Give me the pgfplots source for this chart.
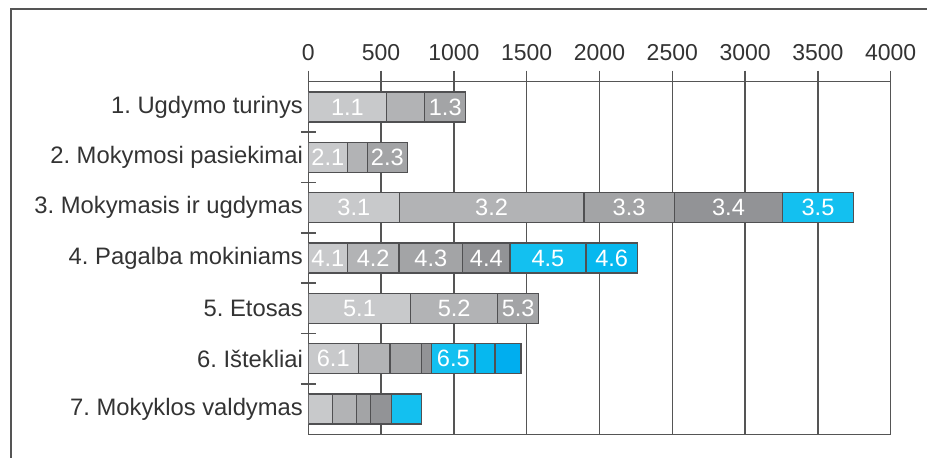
\documentclass[border=0pt]{standalone}
\usepackage{fontspec}
\setmainfont{Liberation Sans}
\usepackage{pgfplots}
\pgfplotsset{compat=1.18}
\definecolor{sa}{HTML}{C8C9CB}
\definecolor{sb}{HTML}{B2B3B5}
\definecolor{sc}{HTML}{A3A4A6}
\definecolor{sd}{HTML}{929396}
\definecolor{ba}{HTML}{13C0F0}
\definecolor{bb}{HTML}{06B8EF}
\definecolor{bc}{HTML}{00AEEF}
\definecolor{edge}{HTML}{505052}
\definecolor{gridc}{HTML}{555555}
\definecolor{txt}{HTML}{333333}
\frenchspacing
\begin{document}
\frenchspacing
\begin{tikzpicture}
\path[use as bounding box] (0,0) rectangle (463.5pt,229pt);
\draw[line width=1pt, color=gridc] (5.5pt,-2pt) -- (5.5pt,224.4pt) -- (466pt,224.4pt);
\begin{axis}[
  at={(154.15pt,11.85pt)}, anchor=south west,
  scale only axis, width=291.2pt, height=176.3pt,
  xbar stacked, bar width=15pt,
  xmin=0, xmax=4000, ymin=0.5, ymax=7.5, y dir=reverse,
  xtick={0,500,...,4000},
  xtick pos=right, xticklabel pos=right, xtick align=outside,
  major tick length=5.5pt,
  xmajorgrids, grid style={gridc, line width=0.7pt},
  axis line style={gridc, line width=0.7pt},
  tick style={gridc, line width=0.7pt},
  /pgf/number format/assume math mode=true,
  /pgf/number format/set thousands separator={},
  xticklabel style={font=\fontsize{11.5}{12}\selectfont, text=txt, inner sep=0pt, anchor=south, yshift=5pt},
  ytick={1,...,7},
  yticklabels={1. Ugdymo turinys, 2. Mokymosi pasiekimai, 3. Mokymasis ir ugdymas, 4. Pagalba mokiniams, 5. Etosas, 6. Ištekliai, 7. Mokyklos valdymas},
  ytick pos=left, ytick align=inside,
  ytick style={draw=none},
  yticklabel style={font=\fontsize{11.9}{12}\selectfont\frenchspacing, text=txt, inner sep=0pt, anchor=east, xshift=-2.5pt},
  extra y ticks={1.5,2.5,...,6.5}, extra y tick labels={},
  extra y tick style={ytick style={draw=gridc, line width=0.7pt}, major tick length=7.5pt, tick align=center},
  point meta=explicit symbolic,
  nodes near coords={\pgfplotspointmeta},
  nodes near coords style={text=white, font=\fontsize{11.8}{12}\selectfont, anchor=center, inner sep=0pt},
  every axis plot/.append style={draw=edge, line width=0.7pt},
]
\addplot[fill=sa] coordinates {(538,1)[1.1] (268,2)[2.1] (625,3)[3.1] (268,4)[4.1] (703,5)[5.1] (343,6)[6.1] (168,7)[{}]};
\addplot[fill=sb] coordinates {(262,1)[{}] (137,2)[{}] (1268,3)[3.2] (355,4)[4.2] (598,5)[5.2] (218,6)[{}] (164,7)[{}]};
\addplot[fill=sc] coordinates {(281,1)[1.3] (275,2)[2.3] (621,3)[3.3] (437,4)[4.3] (281,5)[5.3] (218,6)[{}] (94,7)[{}]};
\addplot[fill=sd] coordinates {(0,1)[{}] (0,2)[{}] (744,3)[3.4] (325,4)[4.4] (0,5)[{}] (68,6)[{}] (144,7)[{}]};
\addplot[fill=ba] coordinates {(0,1)[{}] (0,2)[{}] (485,3)[3.5] (522,4)[4.5] (0,5)[{}] (298,6)[6.5] (209,7)[{}]};
\addplot[fill=bb] coordinates {(0,1)[{}] (0,2)[{}] (0,3)[{}] (353,4)[4.6] (0,5)[{}] (137,6)[{}] (0,7)[{}]};
\addplot[fill=bc] coordinates {(0,1)[{}] (0,2)[{}] (0,3)[{}] (0,4)[{}] (0,5)[{}] (179,6)[{}] (0,7)[{}]};
\end{axis}
\end{tikzpicture}
\end{document}
